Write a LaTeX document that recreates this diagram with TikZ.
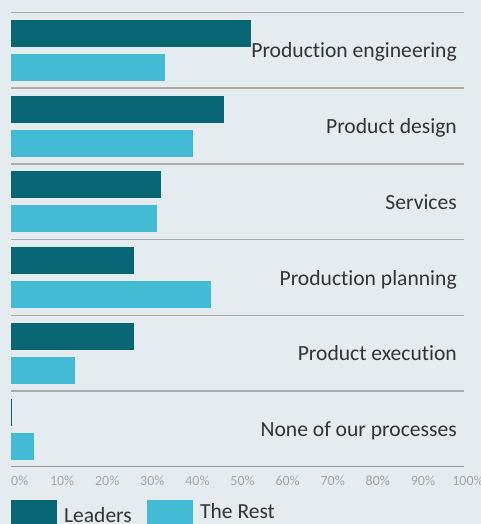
\documentclass[tikz,border=0pt]{standalone}
\usepackage{fontspec}
\setmainfont{Carlito}[Ligatures=NoCommon]
\definecolor{chartbg}{HTML}{E4ECEF}
\definecolor{leaders}{HTML}{086674}
\definecolor{therest}{HTML}{44BBD4}
\definecolor{rule}{HTML}{ABABAB}
\definecolor{labeltext}{HTML}{333333}
\definecolor{ticktext}{HTML}{A6A6A6}
\tikzset{
	leaderbar/.style={fill=leaders,draw=none},
	restbar/.style={fill=therest,draw=none},
	grouprule/.style={draw=rule,line width=1.5pt},
	catlabel/.style={anchor=base east,inner sep=0pt,text=labeltext,font=\fontsize{21.6}{25}\selectfont},
	ticklabel/.style={anchor=base,inner sep=0pt,text=ticktext,font=\fontsize{14}{16}\selectfont},
	legendlabel/.style={anchor=base west,inner sep=0pt,text=labeltext,font=\fontsize{21.5}{25}\selectfont}
}
\begin{document}
\begin{tikzpicture}[x=1pt,y=-1pt]
	\fill[chartbg] (0,0) rectangle (481,524);
	\useasboundingbox (0,0) rectangle (481,524);
	% category groups: name, leaders, the rest
	\foreach \name/\lead/\rest [count=\i from 0] in {
		Production engineering/53/34,
		Product design/47/40.2,
		Services/33.1/32.2,
		Production planning/27.2/44.2,
		Product execution/27.2/14.1,
		None of our processes/0.3/5.1}
	{
		\pgfmathsetmacro{\top}{12.5+75.7*\i}
		\draw[grouprule] (11,\top) -- (464,\top);
		\fill[leaderbar] (11,\top+7.5) rectangle ++(4.53*\lead,27);
		\fill[restbar] (11,\top+41.5) rectangle ++(4.53*\rest,27);
		\node[catlabel] (cat\i) at (457,\top+45.5) {\name};
	}
	% axis
	\draw[draw=rule!90!black,line width=1pt] (11,466) -- (464,466);
	\node[ticklabel,anchor=base west] (tick0) at (11,485) {0\%};
	\foreach \k in {1,...,10}
		\node[ticklabel] (tick\k) at (17+45.1*\k,485) {\k0\%};
	% legend
	\fill[leaderbar] (11,500) rectangle ++(46,30);
	\node[legendlabel] (legLeaders) at (64,522.5) {Leaders};
	\fill[restbar] (147,500) rectangle ++(46,30);
	\node[legendlabel] (legRest) at (200,518) {The Rest};
\end{tikzpicture}
\end{document}
